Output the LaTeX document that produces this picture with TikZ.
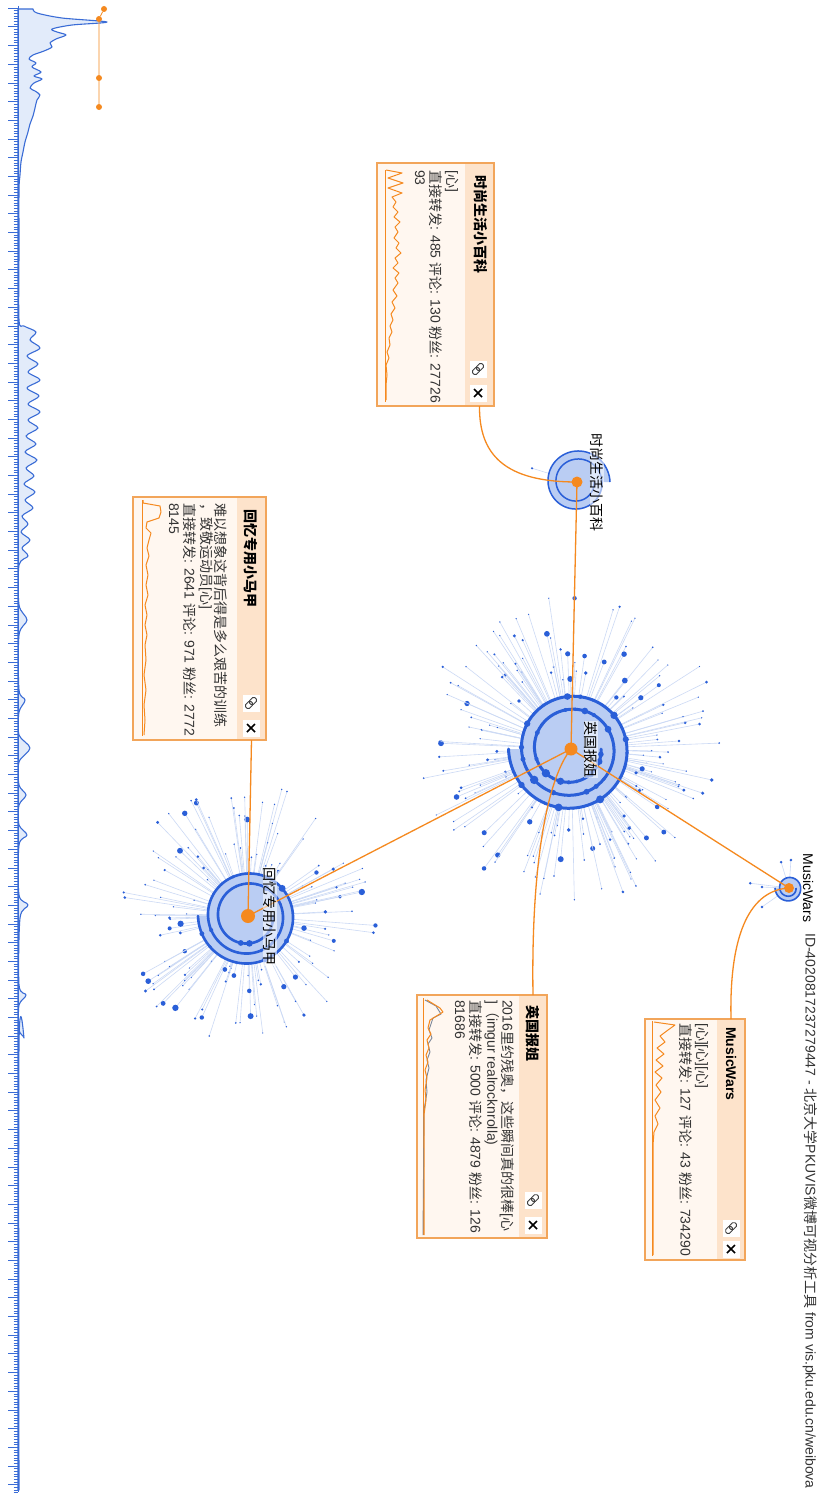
\documentclass[tikz,border=0pt]{standalone}
\usepackage{fontspec}
\setmainfont{Liberation Sans}
\newfontfamily\cjkfont{Noto Sans CJK SC}
\newcommand{\zh}[1]{{\cjkfont #1}}
\usetikzlibrary{calc}
\definecolor{HubOrange}{HTML}{F5891F}
\definecolor{RingBlue}{HTML}{2A5FD8}
\definecolor{DiskBlue}{HTML}{BACDF3}
\definecolor{SpokeBlue}{HTML}{CCDAF5}
\definecolor{CardLine}{HTML}{F2A55A}
\definecolor{CardHead}{HTML}{FDE3CB}
\definecolor{CardBody}{HTML}{FFF7F0}
\definecolor{AxisBlue}{HTML}{3A6CD6}
\definecolor{AreaBlue}{HTML}{E2EBFA}
\definecolor{TextGray}{HTML}{333333}
\definecolor{SparkGray}{HTML}{7A8699}
\tikzset{
  areachart/.style={draw=AxisBlue, fill=AreaBlue, line width=1.1pt, line join=round},
  axisline/.style={AxisBlue, line width=0.9pt},
  tickmark/.style={AxisBlue, line width=0.45pt},
  tickdot/.style={circle, fill=HubOrange, inner sep=0pt, minimum size=6pt},
  timelink/.style={HubOrange, line width=0.8pt},
  card/.style={rectangle, rotate=-90, fill=CardBody, inner sep=0pt, outer sep=0pt},
  cardhead/.style={rectangle, rotate=-90, fill=CardHead, inner sep=0pt, outer sep=0pt},
  cardframe/.style={draw=CardLine, line width=1.3pt},
  iconbox/.style={rectangle, fill=white, minimum size=17pt, inner sep=0pt},
  linkbox/.style={iconbox, path picture={
    \draw[black!75, line width=0.9pt, rounded corners=1.6pt, shift={(path picture bounding box.center)}]
      (-2.76pt,-6.44pt) -- (2.55pt,-1.13pt) -- (-1.13pt,2.55pt) -- (-6.44pt,-2.76pt) -- cycle
      (1.13pt,-2.55pt) -- (6.44pt,2.76pt) -- (2.76pt,6.44pt) -- (-2.55pt,1.13pt) -- cycle;}},
  closebox/.style={iconbox, path picture={
    \draw[black, line width=1.7pt, shift={(path picture bounding box.center)}]
      (-4pt,-4pt) -- (4pt,4pt) (-4pt,4pt) -- (4pt,-4pt);}},
  bodytext/.style={rotate=-90, anchor=west, inner sep=0pt, text=TextGray, font=\fontsize{14}{16}\selectfont},
  headtext/.style={bodytext, text=black, font=\fontsize{14}{16}\selectfont\bfseries},
  spark/.style={HubOrange, line width=1pt, line join=round},
  sparkaxis/.style={HubOrange, line width=0.8pt},
  sparkgray/.style={SparkGray, line width=0.9pt, line join=round},
  spoke/.style={SpokeBlue, line width=0.6pt},
  leaf/.style={fill=RingBlue},
  disk/.style={fill=DiskBlue},
  ring/.style={RingBlue, line width=3pt, line cap=round},
  thinring/.style={RingBlue, line width=1.5pt},
  link/.style={HubOrange, line width=1.3pt},
  hub/.style={circle, fill=HubOrange, inner sep=0pt},
  hublabel/.style={rotate=-90, inner sep=0.5pt, fill=white, fill opacity=0.55, text opacity=1, text=black, font=\fontsize{14}{16}\selectfont\cjkfont}
}

\begin{document}
\begin{tikzpicture}[x=1pt, y=-1pt]
  \useasboundingbox (0,0) rectangle (821,1496);
  \fill[white] (0,0) rectangle (821,1496);

  % timeline on the left
  \filldraw[areachart] (18,9) -- plot[smooth, tension=0.5] coordinates {
    (33,9) (37,13) (62,18) (107,22) (72,25) (52,29) (57,32) (66,35) (56,39) (50,43) (52,47) (44,51)
    (33,55) (29,59) (36,63) (32,67) (41,72) (34,76) (42,79) (34,83) (30,88) (35,91) (40,95) (37,100)
    (35,108) (33,116) (30,124) (28,132) (25,142) (23,152) (21,162) (20,175) (19,190) (19,250) (19,320)
    (24,326) (36,332) (30,340) (40,348) (27,356) (38,364) (28,372) (40,380) (27,388) (39,396) (28,404)
    (40,412) (28,420) (38,428) (26,436) (36,444) (25,452) (37,460) (26,468) (34,476) (24,484) (35,492)
    (25,500) (33,508) (22,516) (28,524) (21,532) (30,540) (22,548) (28,556) (19,565)
    (19,605) (27,620) (19,635) (19,690) (25,700) (19,712) (19,735) (30,748) (19,762) (19,785) (26,795)
    (19,805) (19,825) (27,835) (19,845) (19,895) (28,905) (20,918) (19,985) (26,995) (19,1005)
    (19,1030) (24,1038) (19,1046) (19,1490)} -- (18,1490) -- cycle;
  \foreach \k in {0,...,556}{
    \draw[tickmark] (13.5,8+\k*2.67) -- (18,8+\k*2.67);
  }
  \foreach \k in {0,...,79}{
    \draw[tickmark] (8,8+\k*18.69) -- (18,8+\k*18.69);
  }
  \draw[axisline] (18,6) -- (18,1492);

  \node[tickdot] (t1) at (104,9) {};
  \node[tickdot] (t2) at (99,19) {};
  \node[tickdot] (t3) at (99,78) {};
  \node[tickdot] (t4) at (99,107) {};
  \draw[timelink] (t1) -- (t2) -- (t3) -- (t4);

  % hubs
  \coordinate (sh) at (577,482);
  \coordinate (yg) at (571,749);
  \coordinate (hy) at (248,916);
  \coordinate (mw) at (789,888);

  % spokes
  \pgfmathsetseed{2016}
  \foreach \k in {1,...,180}{
    \pgfmathsetmacro\sang{rnd*360}
    \pgfmathsetmacro\slen{68+rnd*85}
    \pgfmathsetmacro\sdot{0.7+2.4*rnd^4}
    \draw[spoke] ($(yg)+(\sang:52)$) -- ($(yg)+(\sang:\slen)$);
    \fill[leaf] ($(yg)+(\sang:\slen)$) circle (\sdot);
  }
  \foreach \k in {1,...,140}{
    \pgfmathsetmacro\sang{rnd*360}
    \pgfmathsetmacro\slen{52+rnd*80}
    \pgfmathsetmacro\sdot{0.7+2.6*rnd^4}
    \draw[spoke] ($(hy)+(\sang:40)$) -- ($(hy)+(\sang:\slen)$);
    \fill[leaf] ($(hy)+(\sang:\slen)$) circle (\sdot);
  }
  \draw[spoke] ($(sh)+(197:25)$) -- ($(sh)+(197:47)$);
  \fill[leaf] ($(sh)+(197:47)$) circle (1.2);
  \foreach \sang/\slen in {187/39, 182/27, 145/33, 253/27, 274/28}{
    \draw[spoke] ($(mw)+(\sang:10)$) -- ($(mw)+(\sang:\slen)$);
    \fill[leaf] ($(mw)+(\sang:\slen)$) circle (1.4);
  }

  % spiral discs
  \begin{scope}[shift={(yg)}]
    \fill[disk] plot[domain=540:900, samples=90] (\x:{30+\x*13/360}) -- cycle;
    \draw[ring] plot[domain=0:900, samples=220] (\x:{30+\x*13/360});
    \foreach \t in {10,24,...,900}
      \fill[leaf] (\t:{30+\t*13/360}) circle ({1.5+2.8*rnd^4});
  \end{scope}
  \begin{scope}[shift={(hy)}]
    \fill[disk] plot[domain=540:900, samples=90] (\x:{25+\x*10/360}) -- cycle;
    \draw[ring, line width=2.6pt] plot[domain=0:900, samples=220] (\x:{25+\x*10/360});
    \foreach \t in {15,33,...,900}
      \fill[leaf] (\t:{25+\t*10/360}) circle ({1.3+2.2*rnd^4});
  \end{scope}
  \begin{scope}[shift={(sh)}]
    \fill[disk] plot[domain=360:720, samples=60] (\x:{17+\x*16/720}) -- cycle;
    \draw[thinring] plot[domain=0:720, samples=140] (\x:{17+\x*16/720});
  \end{scope}
  \begin{scope}[shift={(mw)}]
    \fill[disk] plot[domain=180:540, samples=60] (\x:{7+\x*7/540}) -- cycle;
    \draw[thinring, line width=1.6pt] plot[domain=0:540, samples=100] (\x:{7+\x*7/540});
  \end{scope}

  % card 1
  \node[card, minimum width=243pt, minimum height=117pt] (card1) at (435.5,284.5) {};
  \node[cardhead, minimum width=243pt, minimum height=29pt, anchor=north] (card1 head) at (card1.north) {};
  \draw[cardframe] (card1.south west) rectangle (card1.north east);
  \node[headtext] (card1 title) at (481,175) {\zh{时尚生活小百科}};
  \node[bodytext] (card1 l1) at (452,170) {[\zh{心}]};
  \node[bodytext] (card1 l2) at (436,170) {\zh{直接转发}: 485 \zh{评论}: 130 \zh{粉丝}: 27726};
  \node[bodytext] (card1 l3) at (420,170) {93};
  \node[linkbox] (card1 link) at (478,369) {};
  \node[closebox] (card1 close) at (478,393) {};
  \draw[sparkaxis] (385,170) -- (385,402);
  \draw[spark] plot coordinates {(386,170) (402,173) (388,178) (403,183) (388,188) (402,193) (392,197)
    (396,202) (393,207) (398,212) (394,217) (400,222) (395,227) (398,232) (394,238) (399,243) (396,248)
    (401,253) (395,258) (398,263) (393,268) (399,273) (395,278) (398,283) (393,290) (397,296) (392,302)
    (395,308) (391,314) (393,320) (390,326) (392,332) (389,338) (390,345) (387,352) (389,358) (386,365)
    (387,375) (386,385) (386,400)};

  % card 2
  \node[card, minimum width=243pt, minimum height=133pt] (card2) at (199.5,618.5) {};
  \node[cardhead, minimum width=243pt, minimum height=29pt, anchor=north] (card2 head) at (card2.north) {};
  \draw[cardframe] (card2.south west) rectangle (card2.north east);
  \node[headtext] (card2 title) at (251,509) {\zh{回忆专用小马甲}};
  \node[bodytext] (card2 l1) at (221,503) {\zh{难以想象这背后得是多么艰苦的训练}};
  \node[bodytext] (card2 l2) at (206,503) {\zh{，致敬运动员}[\zh{心}]};
  \node[bodytext] (card2 l3) at (190,503) {\zh{直接转发}: 2641 \zh{评论}: 971 \zh{粉丝}: 2772};
  \node[bodytext] (card2 l4) at (174,503) {8145};
  \node[linkbox] (card2 link) at (251,703) {};
  \node[closebox] (card2 close) at (251,728) {};
  \draw[sparkaxis] (142,500) -- (142,736);
  \draw[spark] plot coordinates {(143,500) (143,503) (160,506) (161,512) (159,518) (147,522) (146,528)
    (151,533) (149,540) (147,548) (149,556) (146,565) (148,575) (146,585) (148,595) (145,605) (147,615)
    (145,625) (147,635) (145,645) (146,660) (144,675) (146,690) (144,705) (145,720) (144,735)};

  % card 3
  \node[card, minimum width=243pt, minimum height=130pt] (card3) at (482,1116.5) {};
  \node[cardhead, minimum width=243pt, minimum height=28pt, anchor=north] (card3 head) at (card3.north) {};
  \draw[cardframe] (card3.south west) rectangle (card3.north east);
  \node[headtext] (card3 title) at (533,1005) {\zh{英国报姐}};
  \node[bodytext] (card3 l1) at (507,1000) {2016\zh{里约残奥，这些瞬间真的很棒}[\zh{心}};
  \node[bodytext] (card3 l2) at (492,1000) {]\zh{（}imgur realrocknrolla)};
  \node[bodytext] (card3 l3) at (476,1000) {\zh{直接转发}: 5000 \zh{评论}: 4879 \zh{粉丝}: 126};
  \node[bodytext] (card3 l4) at (460,1000) {81686};
  \node[linkbox] (card3 link) at (533,1200) {};
  \node[closebox] (card3 close) at (533,1225) {};
  \draw[sparkaxis] (423,998) -- (423,1235);
  \draw[sparkgray] plot coordinates {(425,1000) (436,1006) (441,1014) (433,1018) (429,1030) (432,1038)
    (428,1044) (430,1052) (427,1060) (429,1068) (426,1080) (427,1092) (424,1110) (423,1235)};
  \draw[spark] plot coordinates {(427,1000) (440,1008) (443,1012) (430,1020) (428,1028) (431,1034)
    (427,1040) (429,1048) (426,1055) (428,1062) (425,1070) (427,1078) (425,1090) (426,1100) (424,1115)
    (424,1235)};

  % card 4
  \node[card, minimum width=241pt, minimum height=100pt] (card4) at (695,1139.5) {};
  \node[cardhead, minimum width=241pt, minimum height=28pt, anchor=north] (card4 head) at (card4.north) {};
  \draw[cardframe] (card4.south west) rectangle (card4.north east);
  \node[headtext] (card4 title) at (731,1027) {MusicWars};
  \node[bodytext] (card4 l1) at (702,1023) {[\zh{心}][\zh{心}][\zh{心}]};
  \node[bodytext] (card4 l2) at (686,1023) {\zh{直接转发}: 127 \zh{评论}: 43 \zh{粉丝}: 734290};
  \node[linkbox] (card4 link) at (731,1228) {};
  \node[closebox] (card4 close) at (731,1249) {};
  \draw[sparkaxis] (652,1021) -- (652,1256);
  \draw[spark] plot coordinates {(654,1022) (675,1025) (668,1030) (660,1036) (665,1042) (657,1048)
    (664,1054) (656,1060) (663,1066) (655,1072) (662,1078) (656,1085) (661,1092) (655,1100) (660,1108)
    (655,1116) (658,1124) (654,1132) (653,1145) (653,1255)};

  % links
  \draw[link] (sh) -- (yg);
  \draw[link] (yg) -- (hy);
  \draw[link] (yg) -- (mw);
  \draw[link] (card1 head.east) .. controls (479,455) and (505,482) .. (sh);
  \draw[link] (card2 head.east) -- (hy);
  \draw[link] (card3 head.west) .. controls (531,870) and (546,780) .. (yg);
  \draw[link] (card4 head.west) .. controls (729,930) and (752,890) .. (mw);

  \node[hub, minimum size=11pt] (sh hub) at (sh) {};
  \node[hub, minimum size=13pt] (yg hub) at (yg) {};
  \node[hub, minimum size=14pt] (hy hub) at (hy) {};
  \node[hub, minimum size=10pt] (mw hub) at (mw) {};

  \node[hublabel] (sh label) at (597,482) {时尚生活小百科};
  \node[hublabel] (yg label) at (591,749) {英国报姐};
  \node[hublabel] (hy label) at (270,916) {回忆专用小马甲};
  \node[hublabel, font=\fontsize{14}{16}\selectfont] (mw label) at (808,888) {MusicWars};
  \node[bodytext, font=\fontsize{14}{16}\selectfont] (credit) at (810,933)
    {ID-4020817237279447 - \zh{北京大学}PKUVIS\zh{微博可视分析工具} from vis.pku.edu.cn/weibova};
\end{tikzpicture}
\end{document}
